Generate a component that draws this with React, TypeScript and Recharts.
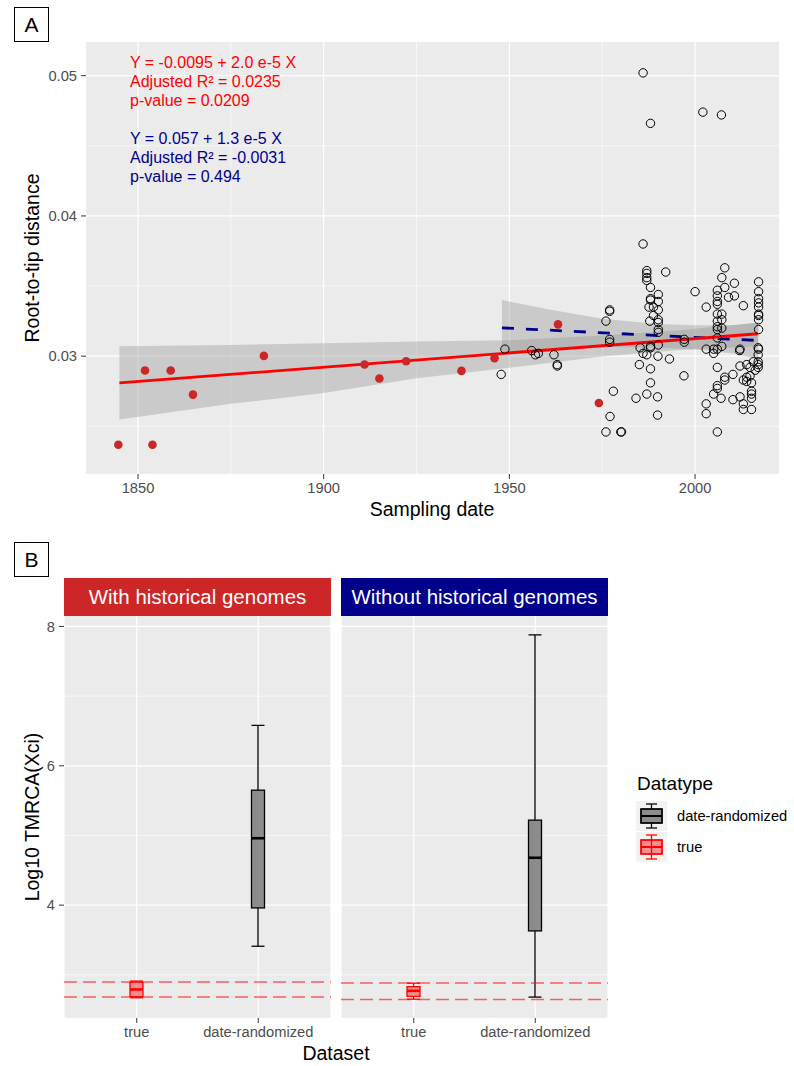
import React from 'react';
import {
  ComposedChart, Scatter, Line, Area, XAxis, YAxis, CartesianGrid, Bar, ReferenceLine,
} from 'recharts';

const FONT = '"Liberation Sans", Arial, Helvetica, sans-serif';

// ---------- Panel A data ----------
const historicalYears = [1844.7, 1851.9, 1853.9, 1858.8, 1864.8, 1883.9, 1911.0, 1915.0, 1922.2, 1937.1, 1946.0, 1963.1, 1974.1];
const historicalDistances = [0.02369, 0.02898, 0.02369, 0.02898, 0.02726, 0.03002, 0.02941, 0.02841, 0.02964, 0.02895, 0.02986, 0.03227, 0.02666];

const modernYears = [
  1986.0, 1988.0, 2002.1, 2007.1,
  1986.0, 1987.0, 1987.0, 1987.0, 1987.0, 1992.1, 1988.0, 1990.1, 1988.0, 1988.0, 1990.1,
  1987.6, 1988.8, 1990.1, 1988.8, 1990.1, 1990.1, 1987.8, 1990.1, 1990.1,
  1976.0, 1977.0, 1977.0, 1977.0, 1977.0, 2000.0, 2003.0, 2013.0,
  2006.0, 2006.0, 2006.0, 2006.0, 2006.0, 2006.0, 2006.0, 2006.0, 2006.0, 2006.0,
  2007.2, 2007.2, 2007.2, 2007.2, 2007.2, 2008.0, 2008.0, 2009.0, 2010.6, 2010.6,
  2017.1, 2017.1, 2017.1, 2017.1, 2017.1, 2017.1, 2017.1, 2017.1, 2017.1, 2017.1,
  1997.1, 1997.1, 2003.0, 2005.0, 2012.1, 1948.8, 1956.0, 1957.0, 1957.8,
  1985.2, 1988.0, 1990.1, 1947.8, 1962.0, 1962.9, 1962.9,
  1986.0, 1987.0, 1988.0, 1990.0, 1993.1, 1985.0, 1988.0, 1988.0,
  1987.0, 1984.1, 1989.9, 1989.9, 1978.0, 1977.1, 1976.0, 1980.0, 1980.2,
  1997.0, 2005.0, 2012.0, 2006.0, 2003.0, 2003.0, 2006.0,
  2005.0, 2006.0, 2006.0, 2007.0, 2008.0, 2008.0, 2010.2, 2010.2, 2012.1, 2012.1,
  2013.0, 2013.0, 2013.0, 2013.9, 2013.9, 2013.9, 2014.8, 2014.8,
  2015.2, 2015.2, 2015.2, 2015.2, 2015.2, 2015.7,
  2017.0, 2017.0, 2017.0, 2017.0, 2017.0, 2016.2,
];
const modernDistances = [
  0.0502, 0.0466, 0.0474, 0.0472,
  0.0380, 0.0361, 0.0359, 0.0356, 0.0354, 0.0360, 0.0349, 0.0344, 0.0341, 0.0340, 0.0339,
  0.0335, 0.0335, 0.0333, 0.0329, 0.0326, 0.0324, 0.0325, 0.0319, 0.0317,
  0.0325, 0.0333, 0.0332, 0.0312, 0.0310, 0.0346, 0.0335, 0.0336,
  0.0347, 0.0343, 0.0339, 0.0337, 0.0330, 0.0325, 0.0321, 0.0319, 0.0313, 0.0305,
  0.0356, 0.0330, 0.0326, 0.0320, 0.0307, 0.0363, 0.0349, 0.0342, 0.0343, 0.0352,
  0.0353, 0.0346, 0.0341, 0.0338, 0.0335, 0.0330, 0.0329, 0.0326, 0.0319, 0.0305,
  0.0312, 0.0310, 0.0305, 0.0305, 0.0305, 0.0305, 0.0304, 0.0301, 0.0302,
  0.0306, 0.0306, 0.0308, 0.0287, 0.0301, 0.0294, 0.0293,
  0.0302, 0.0301, 0.0307, 0.0300, 0.0298, 0.0294, 0.0291, 0.0281,
  0.0273, 0.0270, 0.0271, 0.0258, 0.0275, 0.0257, 0.0246, 0.0246, 0.0246,
  0.0286, 0.0302, 0.0304, 0.0292, 0.0266, 0.0259, 0.0246,
  0.0273, 0.0279, 0.0277, 0.0270, 0.0283, 0.0285, 0.0287, 0.0269, 0.0293, 0.0271,
  0.0283, 0.0266, 0.0262, 0.0294, 0.0285, 0.0282, 0.0292, 0.0286,
  0.0281, 0.0275, 0.0273, 0.0270, 0.0262, 0.0296,
  0.0306, 0.0301, 0.0296, 0.0294, 0.0292, 0.0290,
];

// regression fits
const allFitYears = [1845, 2017];
const allFitValues = [0.02809, 0.03160];
const modernFitYears = [1948, 2017];
const modernFitValues = [0.03202, 0.03112];

// confidence bands
const allBandYears = [1845, 1875, 1900, 1925, 1950, 1975, 1995, 2017];
const allBandLow = [0.02548, 0.02660, 0.02738, 0.02842, 0.02917, 0.02998, 0.03043, 0.03070];
const allBandHigh = [0.03071, 0.03080, 0.03093, 0.03104, 0.03114, 0.03148, 0.03183, 0.03238];
const modernBandYears = [1948, 1960, 1975, 1990, 2000, 2010, 2017];
const modernBandLow = [0.03010, 0.03036, 0.03067, 0.03060, 0.03050, 0.03020, 0.02980];
const modernBandHigh = [0.03400, 0.03336, 0.03267, 0.03230, 0.03220, 0.03220, 0.03240];

const xTicksA = [1850, 1900, 1950, 2000];
const xMinorA = [1875, 1925, 1975];
const yTicksA = [0.03, 0.04, 0.05];
const yMinorA = [0.025, 0.035, 0.045];

// ---------- Panel B data ----------
const datasets = ['true', 'date-randomized'];
const withMin = [2.67, 3.41];
const withQ1 = [2.685, 3.96];
const withMedian = [2.79, 4.96];
const withQ3 = [2.895, 5.65];
const withMax = [2.91, 6.58];
const withoutMin = [2.65, 2.68];
const withoutQ1 = [2.69, 3.63];
const withoutMedian = [2.77, 4.68];
const withoutQ3 = [2.83, 5.22];
const withoutMax = [2.88, 7.88];
const withRefLines = [2.898, 2.683];
const withoutRefLines = [2.884, 2.646];
const yTicksB = [4, 6, 8];
const yMinorB = [3, 5, 7];

const zip = (xs: number[], ys: number[]) => xs.map((x, i) => ({ x, y: ys[i] }));
const historicalPts = zip(historicalYears, historicalDistances);
const modernPts = zip(modernYears, modernDistances);
const allFit = zip(allFitYears, allFitValues);
const modernFit = zip(modernFitYears, modernFitValues);
const allBand = allBandYears.map((x, i) => ({ x, band: [allBandLow[i], allBandHigh[i]] }));
const modernBand = modernBandYears.map((x, i) => ({ x, band: [modernBandLow[i], modernBandHigh[i]] }));

const buildBoxes = (mn: number[], q1: number[], md: number[], q3: number[], mx: number[]) =>
  datasets.map((name, i) => ({
    name, min: mn[i], q1: q1[i], median: md[i], q3: q3[i], max: mx[i], range: [mn[i], mx[i]],
  }));
const withBoxes = buildBoxes(withMin, withQ1, withMedian, withQ3, withMax);
const withoutBoxes = buildBoxes(withoutMin, withoutQ1, withoutMedian, withoutQ3, withoutMax);

const BOX_STYLE: Record<string, { stroke: string; fill: string; fillOpacity: number }> = {
  'true': { stroke: '#FF0000', fill: '#FF0000', fillOpacity: 0.4 },
  'date-randomized': { stroke: '#000000', fill: '#8C8C8C', fillOpacity: 1 },
};

const tickStyle = { fill: '#4D4D4D', fontSize: 14.7, fontFamily: FONT };

const RedDot = (p: any) => <circle cx={p.cx} cy={p.cy} r={4.3} fill="#CD2626" />;
const OpenDot = (p: any) => <circle cx={p.cx} cy={p.cy} r={4.2} fill="none" stroke="#000" strokeWidth={1} />;

const BoxShape = (p: any) => {
  const { x, y, width, height, payload } = p;
  if (!payload) return null;
  const top = Math.min(y, y + height);
  const h = Math.abs(height);
  const { min, q1, median, q3, max, name } = payload;
  const st = BOX_STYLE[name];
  const py = (v: number) => top + ((max - v) / (max - min)) * h;
  const cx = x + width / 2;
  const sw = 1.3;
  return (
    <g>
      <line x1={cx} x2={cx} y1={py(max)} y2={py(q3)} stroke={st.stroke} strokeWidth={sw} />
      <line x1={cx} x2={cx} y1={py(q1)} y2={py(min)} stroke={st.stroke} strokeWidth={sw} />
      <line x1={x} x2={x + width} y1={py(max)} y2={py(max)} stroke={st.stroke} strokeWidth={sw} />
      <line x1={x} x2={x + width} y1={py(min)} y2={py(min)} stroke={st.stroke} strokeWidth={sw} />
      <rect x={x} y={py(q3)} width={width} height={py(q1) - py(q3)} fill={st.fill} fillOpacity={st.fillOpacity} stroke={st.stroke} strokeWidth={sw} />
      <line x1={x} x2={x + width} y1={py(median)} y2={py(median)} stroke={st.stroke} strokeWidth={2.6} />
    </g>
  );
};

const AxisTitle = ({ cx, cy, text, rotate }: { cx: number; cy: number; text: string; rotate?: boolean }) => (
  <div style={{
    position: 'absolute', left: cx, top: cy, transform: `translate(-50%, -50%)${rotate ? ' rotate(-90deg)' : ''}`,
    whiteSpace: 'nowrap', fontFamily: FONT, fontSize: 19.5, color: '#000', lineHeight: 1,
  }}>{text}</div>
);

const PanelLabel = ({ top, text }: { top: number; text: string }) => (
  <div style={{
    position: 'absolute', left: 14, top, width: 35, height: 35, boxSizing: 'border-box', border: '1.2px solid #000',
    display: 'flex', alignItems: 'center', justifyContent: 'center', fontFamily: FONT, fontSize: 21, background: '#fff',
  }}>{text}</div>
);

const Strip = ({ left, width, bg, text }: { left: number; width: number; bg: string; text: string }) => (
  <div style={{
    position: 'absolute', left, top: 578, width, height: 38, background: bg, color: '#fff',
    display: 'flex', alignItems: 'center', justifyContent: 'center', fontFamily: FONT, fontSize: 20.5,
  }}>{text}</div>
);

const PanelA = () => (
  <ComposedChart width={794} height={530} margin={{ top: 42, right: 15, bottom: 26, left: 36 }}>
    <CartesianGrid fill="#EBEBEB" stroke="#FFFFFF" strokeWidth={1.2}
      horizontalValues={yTicksA} verticalValues={xTicksA} />
    <CartesianGrid fill="none" stroke="#FFFFFF" strokeWidth={0.6}
      horizontalValues={yMinorA} verticalValues={xMinorA} />
    <XAxis type="number" dataKey="x" domain={[1836, 2022.6]} allowDataOverflow ticks={xTicksA}
      tick={tickStyle} tickLine={{ stroke: '#333' }} axisLine={false} tickSize={5} tickMargin={4} height={30} />
    <YAxis type="number" domain={[0.0216, 0.0524]} allowDataOverflow ticks={yTicksA}
      tickFormatter={(v: number) => v.toFixed(2)} tick={tickStyle} tickLine={{ stroke: '#333' }}
      axisLine={false} tickSize={5} tickMargin={4} width={50} />
    <Area data={allBand} dataKey="band" type="linear" stroke="none" fill="#999999" fillOpacity={0.4} isAnimationActive={false} />
    <Area data={modernBand} dataKey="band" type="linear" stroke="none" fill="#999999" fillOpacity={0.4} isAnimationActive={false} />
    <Scatter data={modernPts} dataKey="y" shape={OpenDot} isAnimationActive={false} />
    <Scatter data={historicalPts} dataKey="y" shape={RedDot} isAnimationActive={false} />
    <Line data={modernFit} dataKey="y" type="linear" stroke="#00008B" strokeWidth={2.8} strokeDasharray="12 12" dot={false} isAnimationActive={false} />
    <Line data={allFit} dataKey="y" type="linear" stroke="#FF0000" strokeWidth={2.8} dot={false} isAnimationActive={false} />
  </ComposedChart>
);

const Facet = ({ data, refs, showY, width, left, right }: any) => (
  <ComposedChart width={width} height={493} data={data} margin={{ top: 56, right, bottom: 5, left }}>
    <CartesianGrid fill="#EBEBEB" stroke="#FFFFFF" strokeWidth={1.2} horizontalValues={yTicksB} />
    <CartesianGrid fill="none" stroke="#FFFFFF" strokeWidth={0.6} horizontalValues={yMinorB} vertical={false} />
    <XAxis type="category" dataKey="name" padding={{ left: 12, right: 12 }} tick={tickStyle}
      tickLine={{ stroke: '#333' }} axisLine={false} tickSize={5} tickMargin={4} height={30} />
    <YAxis type="number" domain={[2.38, 8.15]} allowDataOverflow ticks={yTicksB} hide={!showY}
      tick={tickStyle} tickLine={{ stroke: '#333' }} axisLine={false} tickSize={5} tickMargin={4} width={40} />
    <Bar dataKey="range" barSize={13} shape={BoxShape} isAnimationActive={false} />
    {refs.map((v: number, i: number) => (
      <ReferenceLine key={i} y={v} stroke="#FF0000" strokeOpacity={0.6} strokeWidth={1.5} strokeDasharray="13 6" />
    ))}
  </ComposedChart>
);

const LegendKey = ({ top, stroke, fill, fillOpacity }: any) => (
  <svg width={31} height={30} style={{ position: 'absolute', left: 636, top }}>
    <rect x={0} y={0} width={31} height={30} fill="#F2F2F2" />
    <line x1={15.5} x2={15.5} y1={3} y2={27} stroke={stroke} strokeWidth={1.3} />
    <line x1={10} x2={21} y1={3} y2={3} stroke={stroke} strokeWidth={1.3} />
    <line x1={10} x2={21} y1={27} y2={27} stroke={stroke} strokeWidth={1.3} />
    <rect x={5} y={8} width={21} height={14} fill={fill} fillOpacity={fillOpacity} stroke={stroke} strokeWidth={1.3} />
    <rect x={5} y={8} width={21} height={14} fill="none" stroke={stroke} strokeWidth={1.3} />
    <line x1={5} x2={26} y1={15} y2={15} stroke={stroke} strokeWidth={2} />
  </svg>
);

export default function App() {
  return (
    <div style={{ position: 'absolute', left: 0, top: 0, width: 794, height: 1066, background: '#fff', fontFamily: FONT }}>
      <div style={{ position: 'absolute', left: 0, top: 0 }}>
        <PanelA />
      </div>
      <div style={{
        position: 'absolute', left: 130, top: 53, fontFamily: FONT, fontSize: 16, lineHeight: '19px', whiteSpace: 'pre',
      }}>
        <div style={{ color: '#FF0000' }}>{'Y = -0.0095 + 2.0 e-5 X'}</div>
        <div style={{ color: '#FF0000' }}>{'Adjusted R² = 0.0235'}</div>
        <div style={{ color: '#FF0000' }}>{'p-value = 0.0209'}</div>
        <div>{' '}</div>
        <div style={{ color: '#00008B' }}>{'Y = 0.057 + 1.3 e-5 X'}</div>
        <div style={{ color: '#00008B' }}>{'Adjusted R² = -0.0031'}</div>
        <div style={{ color: '#00008B' }}>{'p-value = 0.494'}</div>
      </div>
      <AxisTitle cx={33} cy={258} text="Root-to-tip distance" rotate />
      <AxisTitle cx={432} cy={510} text="Sampling date" />
      <PanelLabel top={7} text="A" />

      <PanelLabel top={542} text="B" />
      <Strip left={64} width={267} bg="#CD2626" text="With historical genomes" />
      <Strip left={341} width={267} bg="#00008B" text="Without historical genomes" />
      <div style={{ position: 'absolute', left: 0, top: 560 }}>
        <Facet data={withBoxes} refs={withRefLines} showY width={340} left={24} right={9} />
      </div>
      <div style={{ position: 'absolute', left: 331, top: 560 }}>
        <Facet data={withoutBoxes} refs={withoutRefLines} showY={false} width={286} left={10} right={9} />
      </div>
      <AxisTitle cx={33} cy={817} text="Log10 TMRCA(Xci)" rotate />
      <AxisTitle cx={336} cy={1054} text="Dataset" />

      <div style={{ position: 'absolute', left: 637, top: 774, fontFamily: FONT, fontSize: 19, lineHeight: '20px' }}>Datatype</div>
      <LegendKey top={801} stroke="#000" fill="#8C8C8C" fillOpacity={1} />
      <LegendKey top={832} stroke="#FF0000" fill="#FF0000" fillOpacity={0.4} />
      <div style={{ position: 'absolute', left: 677, top: 808, fontFamily: FONT, fontSize: 14.7, lineHeight: '17px', color: '#000' }}>date-randomized</div>
      <div style={{ position: 'absolute', left: 677, top: 839, fontFamily: FONT, fontSize: 14.7, lineHeight: '17px', color: '#000' }}>true</div>
    </div>
  );
}
